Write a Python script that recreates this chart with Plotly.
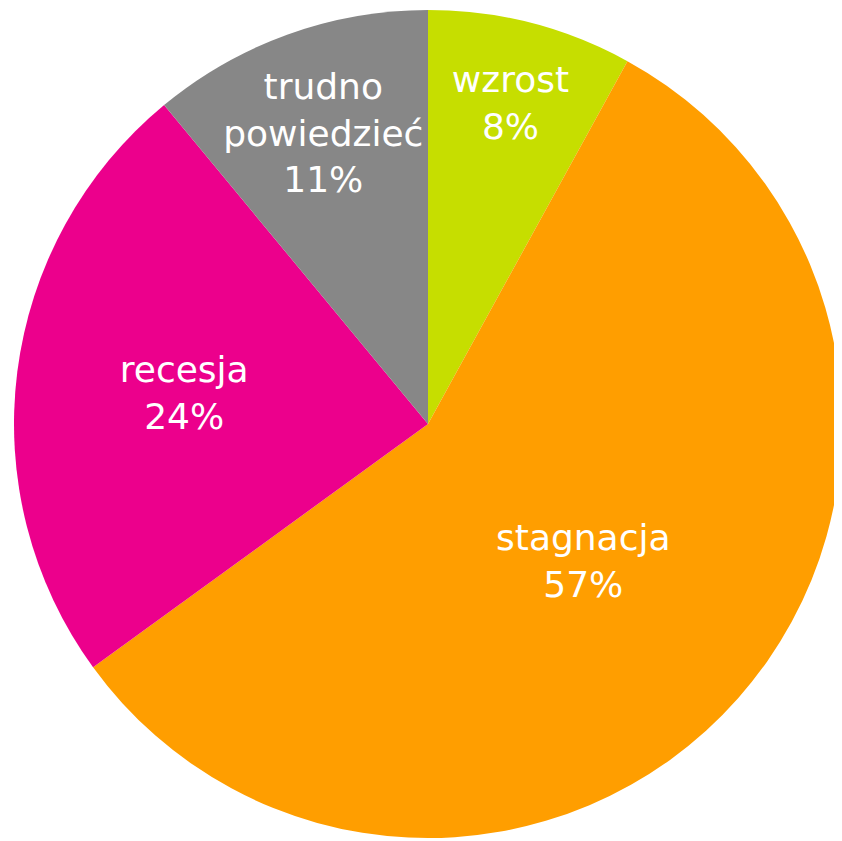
import plotly.graph_objects as go

labels = ["wzrost", "stagnacja", "recesja", "trudno<br>powiedzieć"]
values = [8, 57, 24, 11]
colors = ["#C6DE00", "#FF9E00", "#EC008C", "#878787"]

fig = go.Figure(go.Pie(
    labels=labels,
    values=values,
    sort=False,
    direction="clockwise",
    rotation=0,
    marker=dict(colors=colors, line=dict(width=0)),
    texttemplate="%{label}<br>%{value}%",
    textposition="inside",
    insidetextorientation="horizontal",
    textfont=dict(family="DejaVu Sans", size=36, color="white"),
    hoverinfo="label+percent",
    domain=dict(x=[6/842, 834/842], y=[11/841, 1 - 2/841]),
    showlegend=False,
))
fig.update_layout(
    width=842, height=841,
    margin=dict(l=0, r=0, t=0, b=0),
    paper_bgcolor="white",
    uniformtext=dict(minsize=36, mode="show"),
)
fig.write_html("out.html")
